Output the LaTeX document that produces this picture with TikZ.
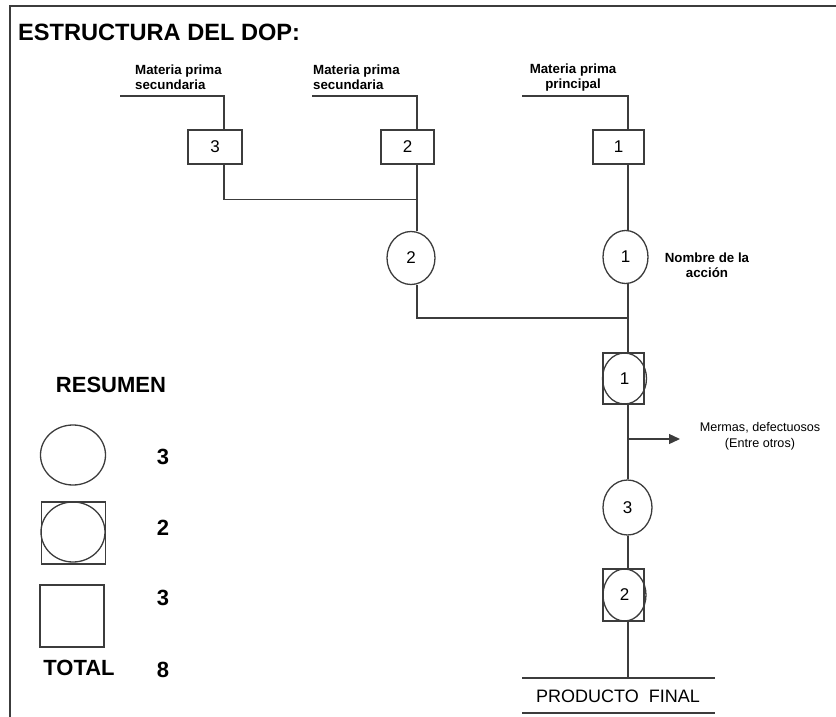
\documentclass[tikz,border=0pt]{standalone}
\usepackage{fontspec}
\setmainfont{Liberation Sans}
\usetikzlibrary{shapes.geometric,arrows.meta}
\definecolor{trazo}{HTML}{3C3C3C}
\tikzset{
  linea/.style={draw=trazo, line width=1.3pt},
  caja/.style={linea, rectangle, inner sep=0pt, minimum width=#1, minimum height=34,
               font=\fontsize{17}{20}\selectfont},
  oper/.style={linea, ellipse, inner sep=0pt, font=\fontsize{17}{20}\selectfont},
  etiq/.style={font=\bfseries\fontsize{13.3}{15}\selectfont, inner sep=0pt},
  resum/.style={font=\bfseries\fontsize{22}{24}\selectfont, inner sep=0pt},
}

\begin{document}
\begin{tikzpicture}[x=1pt, y=-1pt]
  \useasboundingbox (0,0) rectangle (836,717);
  % marco
  \draw[linea, line width=1.1pt] (10,717) -- (10,6) -- (836,6);
  \node[font=\bfseries\fontsize{23.6}{26}\selectfont, anchor=west, inner sep=0pt] (titulo)
    at (18,32) {ESTRUCTURA DEL DOP:};
  % ejes de cada columna
  \coordinate (colA) at (224,0);
  \coordinate (colB) at (417,0);
  \coordinate (colC) at (628,0);
  % materias primas
  \node[etiq, align=left, anchor=west] (et3) at (135,77.5) {Materia prima\\secundaria};
  \node[etiq, align=left, anchor=west] (et2) at (313,77.5) {Materia prima\\secundaria};
  \node[etiq, align=center] (et1) at (573,77.5) {Materia prima\\principal};
  \coordinate (mp3) at (120,96);
  \coordinate (mp2) at (312,96);
  \coordinate (mp1) at (522,96);
  % inspecciones y operaciones
  \node[caja=54] (box3) at (215,147) {3};
  \node[caja=53] (box2) at (407.5,147) {2};
  \node[caja=51] (box1) at (618.5,147) {1};
  \node[oper, minimum width=48, minimum height=53] (op2) at (411,258) {2};
  \node[oper, minimum width=45, minimum height=53] (op1) at (625.5,257) {1};
  \node[etiq, align=center] (accion) at (707,265) {Nombre de la\\acción};
  % operaciones combinadas
  \node[linea, rectangle, minimum width=41, minimum height=51] (sq1) at (623.5,378.5) {};
  \node[oper, minimum width=44, minimum height=51] (op4) at (624.5,378.5) {1};
  \node[oper, minimum width=49, minimum height=55] (op3) at (627.5,507.5) {3};
  \node[linea, rectangle, minimum width=41, minimum height=52] (sq2) at (623.5,595) {};
  \node[oper, minimum width=43, minimum height=52] (op5) at (624.5,595) {2};
  % uniones
  \draw[linea] (mp3) -| (box3.north -| colA);
  \draw[linea] (mp2) -| (box2.north -| colB);
  \draw[linea] (mp1) -| (box1.north -| colC);
  \draw[linea] (box3.south -| colA) -- ++(0,35) -| (op2.north -| colB);
  \draw[linea] (box2.south -| colB) -- ++(0,35);
  \draw[linea] (box1.south -| colC) -- (op1.north -| colC);
  \coordinate (union) at (628,318);
  \draw[linea] (op2.south -| colB) |- (union);
  \draw[linea] (op1.south -| colC) -- (sq1.north -| colC);
  \draw[linea] (sq1.south -| colC) -- (op3.north -| colC);
  \draw[linea] (op3.south -| colC) -- (sq2.north -| colC);
  \coordinate (fin) at (628,678);
  \draw[linea] (sq2.south -| colC) -- (fin);
  % mermas
  \coordinate (merma) at (628,439);
  \draw[linea, -{Triangle[length=11pt,width=10pt]}] (merma) -- ++(52,0);
  \node[font=\fontsize{12.6}{16}\selectfont, align=center, inner sep=0pt] (mermas)
    at (760,436) {Mermas, defectuosos\\(Entre otros)};
  % producto final
  \draw[linea, line width=1.1pt] (522,678) -- (715,678);
  \draw[linea, line width=1.1pt] (522,713) -- (715,713);
  \node[font=\fontsize{18}{20}\selectfont, inner sep=0pt] (prod) at (618,696) {PRODUCTO\ \ FINAL};
  % resumen
  \node[resum] (resumen) at (111,385) {RESUMEN};
  \node[oper, minimum width=65, minimum height=60] (rs1) at (73,455) {};
  \node[linea, rectangle, minimum width=64, minimum height=62] (rs2) at (73.5,533) {};
  \node[oper, minimum width=64, minimum height=60] (rs2c) at (73,532) {};
  \node[linea, rectangle, minimum width=64, minimum height=62] (rs3) at (72,616) {};
  \foreach \yy/\nn in {457/3, 528/2, 598/3, 670/8}{
    \node[resum] at (163,\yy) {\nn};
  }
  \node[resum] (total) at (79,668) {TOTAL};
\end{tikzpicture}
\end{document}
